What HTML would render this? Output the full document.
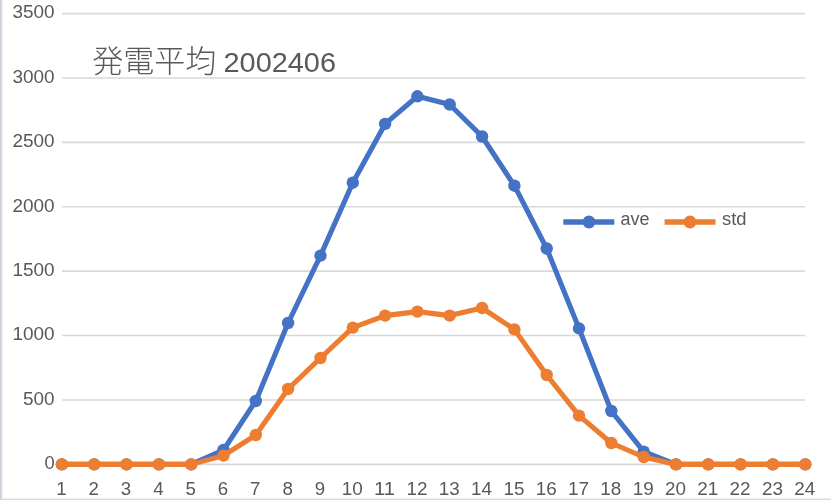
<!DOCTYPE html>
<html lang="ja"><head><meta charset="utf-8"><title>発電平均 2002406</title>
<style>
html,body{margin:0;padding:0;background:#fff;}
body{width:831px;height:500px;overflow:hidden;position:relative;}
svg{display:block;position:absolute;left:0;top:0;}
text{font-family:"Liberation Sans","Noto Sans CJK JP",sans-serif;fill:#595959;}
.ax{font-size:18px;}
.ttl{font-size:28.2px;}
.cjk{font-family:"Noto Sans CJK JP","Liberation Sans",sans-serif;font-weight:300;font-size:30.5px;}
</style></head><body>
<svg width="831" height="500" viewBox="0 0 831 500">
<rect x="0" y="0" width="831" height="500" fill="#ffffff"/>
<rect x="0" y="0" width="1" height="500" fill="#cbd0db"/>
<rect x="1" y="0" width="1" height="500" fill="#d9d9db"/>
<rect x="2" y="0" width="1" height="500" fill="#f3f3f3"/>
<rect x="2" y="498" width="829" height="1" fill="#eeeeee"/>
<rect x="1" y="499" width="830" height="1" fill="#d9d9d9"/>
<g stroke="#d9d9d9" stroke-width="1.6"><line x1="62" y1="464.35" x2="805" y2="464.35"/><line x1="62" y1="399.96" x2="805" y2="399.96"/><line x1="62" y1="335.56" x2="805" y2="335.56"/><line x1="62" y1="271.17" x2="805" y2="271.17"/><line x1="62" y1="206.78" x2="805" y2="206.78"/><line x1="62" y1="142.39" x2="805" y2="142.39"/><line x1="62" y1="77.99" x2="805" y2="77.99"/><line x1="62" y1="13.60" x2="805" y2="13.60"/></g>
<g class="ax" text-anchor="end"><text x="54.6" y="469.1" textLength="10.2" lengthAdjust="spacingAndGlyphs">0</text><text x="54.6" y="404.7" textLength="31.6" lengthAdjust="spacingAndGlyphs">500</text><text x="54.6" y="340.3" textLength="42.2" lengthAdjust="spacingAndGlyphs">1000</text><text x="54.6" y="275.9" textLength="42.2" lengthAdjust="spacingAndGlyphs">1500</text><text x="54.6" y="211.5" textLength="42.2" lengthAdjust="spacingAndGlyphs">2000</text><text x="54.6" y="147.1" textLength="42.2" lengthAdjust="spacingAndGlyphs">2500</text><text x="54.6" y="82.7" textLength="42.2" lengthAdjust="spacingAndGlyphs">3000</text><text x="54.6" y="18.3" textLength="42.2" lengthAdjust="spacingAndGlyphs">3500</text></g>
<g class="ax" text-anchor="middle"><text x="61.4" y="494.7" textLength="10.4" lengthAdjust="spacingAndGlyphs">1</text><text x="93.7" y="494.7" textLength="10.4" lengthAdjust="spacingAndGlyphs">2</text><text x="126.0" y="494.7" textLength="10.4" lengthAdjust="spacingAndGlyphs">3</text><text x="158.4" y="494.7" textLength="10.4" lengthAdjust="spacingAndGlyphs">4</text><text x="190.7" y="494.7" textLength="10.4" lengthAdjust="spacingAndGlyphs">5</text><text x="223.0" y="494.7" textLength="10.4" lengthAdjust="spacingAndGlyphs">6</text><text x="255.3" y="494.7" textLength="10.4" lengthAdjust="spacingAndGlyphs">7</text><text x="287.6" y="494.7" textLength="10.4" lengthAdjust="spacingAndGlyphs">8</text><text x="320.0" y="494.7" textLength="10.4" lengthAdjust="spacingAndGlyphs">9</text><text x="352.3" y="494.7" textLength="21.0" lengthAdjust="spacingAndGlyphs">10</text><text x="384.6" y="494.7" textLength="21.0" lengthAdjust="spacingAndGlyphs">11</text><text x="416.9" y="494.7" textLength="21.0" lengthAdjust="spacingAndGlyphs">12</text><text x="449.2" y="494.7" textLength="21.0" lengthAdjust="spacingAndGlyphs">13</text><text x="481.6" y="494.7" textLength="21.0" lengthAdjust="spacingAndGlyphs">14</text><text x="513.9" y="494.7" textLength="21.0" lengthAdjust="spacingAndGlyphs">15</text><text x="546.2" y="494.7" textLength="21.0" lengthAdjust="spacingAndGlyphs">16</text><text x="578.5" y="494.7" textLength="21.0" lengthAdjust="spacingAndGlyphs">17</text><text x="610.8" y="494.7" textLength="21.0" lengthAdjust="spacingAndGlyphs">18</text><text x="643.2" y="494.7" textLength="21.0" lengthAdjust="spacingAndGlyphs">19</text><text x="675.5" y="494.7" textLength="21.0" lengthAdjust="spacingAndGlyphs">20</text><text x="707.8" y="494.7" textLength="21.0" lengthAdjust="spacingAndGlyphs">21</text><text x="740.1" y="494.7" textLength="21.0" lengthAdjust="spacingAndGlyphs">22</text><text x="772.4" y="494.7" textLength="21.0" lengthAdjust="spacingAndGlyphs">23</text><text x="804.8" y="494.7" textLength="21.0" lengthAdjust="spacingAndGlyphs">24</text></g>
<text class="cjk" x="92.3" y="71.9" textLength="124" lengthAdjust="spacingAndGlyphs">発電平均</text>
<text class="ttl" x="223.5" y="72.4" textLength="112.5" lengthAdjust="spacingAndGlyphs">2002406</text>
<polyline fill="none" stroke="#4472c4" stroke-width="5.1" stroke-linejoin="round" stroke-linecap="round" points="61.9,464.4 94.2,464.4 126.5,464.4 158.9,464.4 191.2,464.4 223.5,450.0 255.8,401.0 288.1,323.0 320.5,255.6 352.8,182.7 385.1,123.9 417.4,96.3 449.7,104.5 482.1,136.5 514.4,185.7 546.7,248.5 579.0,328.4 611.3,411.0 643.7,451.6 676.0,464.4 708.3,464.4 740.6,464.4 772.9,464.4 805.3,464.4"/>
<g fill="#4472c4"><circle cx="61.9" cy="464.4" r="6.2"/><circle cx="94.2" cy="464.4" r="6.2"/><circle cx="126.5" cy="464.4" r="6.2"/><circle cx="158.9" cy="464.4" r="6.2"/><circle cx="191.2" cy="464.4" r="6.2"/><circle cx="223.5" cy="450.0" r="6.2"/><circle cx="255.8" cy="401.0" r="6.2"/><circle cx="288.1" cy="323.0" r="6.2"/><circle cx="320.5" cy="255.6" r="6.2"/><circle cx="352.8" cy="182.7" r="6.2"/><circle cx="385.1" cy="123.9" r="6.2"/><circle cx="417.4" cy="96.3" r="6.2"/><circle cx="449.7" cy="104.5" r="6.2"/><circle cx="482.1" cy="136.5" r="6.2"/><circle cx="514.4" cy="185.7" r="6.2"/><circle cx="546.7" cy="248.5" r="6.2"/><circle cx="579.0" cy="328.4" r="6.2"/><circle cx="611.3" cy="411.0" r="6.2"/><circle cx="643.7" cy="451.6" r="6.2"/><circle cx="676.0" cy="464.4" r="6.2"/><circle cx="708.3" cy="464.4" r="6.2"/><circle cx="740.6" cy="464.4" r="6.2"/><circle cx="772.9" cy="464.4" r="6.2"/><circle cx="805.3" cy="464.4" r="6.2"/></g>
<polyline fill="none" stroke="#ed7d31" stroke-width="5.1" stroke-linejoin="round" stroke-linecap="round" points="61.9,464.4 94.2,464.4 126.5,464.4 158.9,464.4 191.2,464.4 223.5,455.6 255.8,435.0 288.1,389.0 320.5,358.0 352.8,327.6 385.1,315.6 417.4,311.6 449.7,315.6 482.1,308.0 514.4,329.4 546.7,375.0 579.0,415.6 611.3,443.0 643.7,457.0 676.0,464.4 708.3,464.4 740.6,464.4 772.9,464.4 805.3,464.4"/>
<g fill="#ed7d31"><circle cx="61.9" cy="464.4" r="6.2"/><circle cx="94.2" cy="464.4" r="6.2"/><circle cx="126.5" cy="464.4" r="6.2"/><circle cx="158.9" cy="464.4" r="6.2"/><circle cx="191.2" cy="464.4" r="6.2"/><circle cx="223.5" cy="455.6" r="6.2"/><circle cx="255.8" cy="435.0" r="6.2"/><circle cx="288.1" cy="389.0" r="6.2"/><circle cx="320.5" cy="358.0" r="6.2"/><circle cx="352.8" cy="327.6" r="6.2"/><circle cx="385.1" cy="315.6" r="6.2"/><circle cx="417.4" cy="311.6" r="6.2"/><circle cx="449.7" cy="315.6" r="6.2"/><circle cx="482.1" cy="308.0" r="6.2"/><circle cx="514.4" cy="329.4" r="6.2"/><circle cx="546.7" cy="375.0" r="6.2"/><circle cx="579.0" cy="415.6" r="6.2"/><circle cx="611.3" cy="443.0" r="6.2"/><circle cx="643.7" cy="457.0" r="6.2"/><circle cx="676.0" cy="464.4" r="6.2"/><circle cx="708.3" cy="464.4" r="6.2"/><circle cx="740.6" cy="464.4" r="6.2"/><circle cx="772.9" cy="464.4" r="6.2"/><circle cx="805.3" cy="464.4" r="6.2"/></g>
<line x1="563.3" y1="222" x2="614.3" y2="222" stroke="#4472c4" stroke-width="5.3"/><circle cx="589" cy="222" r="6.45" fill="#4472c4"/>
<text class="ax" x="620.4" y="225.2" textLength="29" lengthAdjust="spacingAndGlyphs">ave</text>
<line x1="664.6" y1="222" x2="715.5" y2="222" stroke="#ed7d31" stroke-width="5.3"/><circle cx="690" cy="222" r="6.45" fill="#ed7d31"/>
<text class="ax" x="722" y="225.2" textLength="24.6" lengthAdjust="spacingAndGlyphs">std</text>
</svg>
</body></html>
